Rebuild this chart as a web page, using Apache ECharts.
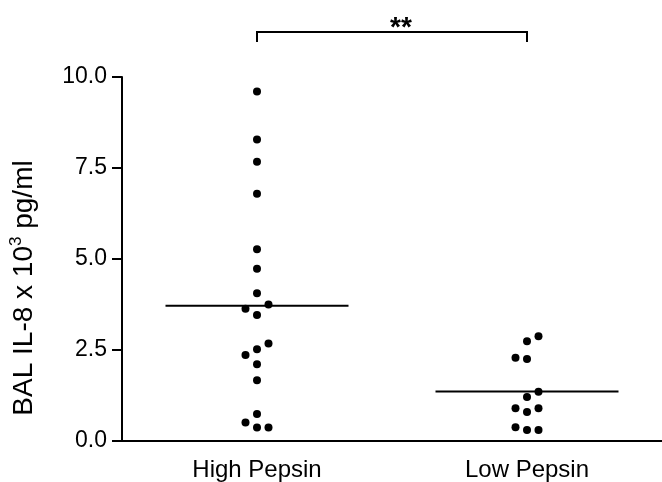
<!DOCTYPE html>
<html>
<head>
<meta charset="utf-8">
<script src="https://cdn.jsdelivr.net/npm/echarts@6/dist/echarts.min.js"></script>
<style>
  html, body { margin: 0; padding: 0; background: #fff; }
  #chart { width: 662px; height: 482px; }
</style>
</head>
<body>
<div id="chart"></div>
<script>
const categories = ['High Pepsin', 'Low Pepsin'];
const highPepsin = [9.6, 8.28, 7.67, 6.79, 5.27, 4.73, 4.06, 3.46, 3.75, 3.63, 2.52, 2.68, 2.36, 2.11, 1.67, 0.74, 0.37, 0.37, 0.51];
const lowPepsin = [2.74, 2.88, 2.25, 2.29, 1.21, 1.35, 0.80, 0.90, 0.90, 0.30, 0.38, 0.30];
const yMin = 0, yMax = 10, yInterval = 2.5;
const significance = '**';
const yTitle = 'BAL IL-8 x 10{sup|3} pg/ml';

const FONT = '"Liberation Sans", Arial, Helvetica, sans-serif';
const gridTop = 77, gridHeight = 364, gridLeft = 119, gridWidth = 545;
const pxPerUnit = gridHeight / (yMax - yMin);

function mean(a) { return a.reduce((s, v) => s + v, 0) / a.length; }

// simple beeswarm: horizontal pixel offsets so dots don't overlap
function swarm(values, step, thr) {
  const placed = [];
  const out = [];
  let side = 1;
  values.forEach(v => {
    const y = v * pxPerUnit;
    const cands = [0, side, -side, 2 * side, -2 * side];
    let chosen = 0;
    for (const c of cands) {
      const x = c * step;
      if (placed.every(p => Math.hypot(p[0] - x, p[1] - y) >= thr)) { chosen = c; break; }
    }
    if (chosen !== 0) side = chosen > 0 ? -1 : 1;
    placed.push([chosen * step, y]);
    out.push(chosen * step);
  });
  return out;
}

function dots(catIndex, values) {
  const offs = swarm(values, 11.5, 11);
  return values.map((v, i) => ({ value: [catIndex, v], symbolOffset: [offs[i], 0] }));
}

const means = [[0, mean(highPepsin)], [1, mean(lowPepsin)]];

const chart = echarts.init(document.getElementById('chart'), null, { renderer: 'canvas' });
chart.setOption({
  backgroundColor: '#fff',
  animation: false,
  grid: { left: gridLeft, top: gridTop, width: gridWidth, height: gridHeight, containLabel: false },
  xAxis: {
    type: 'category',
    data: categories,
    axisLine: { lineStyle: { color: '#000', width: 2 } },
    axisTick: { alignWithLabel: true, length: 10, lineStyle: { color: '#000', width: 2 } },
    axisLabel: { color: '#000', fontSize: 24, fontFamily: FONT, margin: 17 },
    splitLine: { show: false }
  },
  yAxis: {
    type: 'value',
    min: yMin, max: yMax, interval: yInterval,
    axisLine: { show: true, lineStyle: { color: '#000', width: 2 } },
    axisTick: { show: true, length: 10, lineStyle: { color: '#000', width: 2 } },
    axisLabel: { color: '#000', fontSize: 23, fontFamily: FONT, margin: 15, formatter: v => v.toFixed(1) },
    splitLine: { show: false },
    name: yTitle,
    nameLocation: 'middle',
    nameGap: 82,
    nameTextStyle: {
      color: '#000', fontSize: 28, fontFamily: FONT,
      padding: [0, 58, 0, 0],
      rich: { sup: { fontSize: 17, fontFamily: FONT, color: '#000', padding: [0, 0, 15, 0] } }
    }
  },
  series: [
    {
      type: 'scatter', data: dots(0, highPepsin), symbol: 'circle', symbolSize: 8,
      itemStyle: { color: '#000', opacity: 1 }, z: 5
    },
    {
      type: 'scatter', data: dots(1, lowPepsin), symbol: 'circle', symbolSize: 8,
      itemStyle: { color: '#000', opacity: 1 }, z: 5
    },
    {
      type: 'custom',
      data: means,
      clip: false,
      z: 4,
      renderItem: function (params, api) {
        const p = api.coord([api.value(0), api.value(1)]);
        return {
          type: 'line',
          shape: { x1: p[0] - 91.5, y1: p[1], x2: p[0] + 91.5, y2: p[1] },
          style: { stroke: '#000', lineWidth: 2 }
        };
      }
    },
    {
      type: 'custom',
      data: [[0, 1]],
      clip: false,
      silent: true,
      renderItem: function (params, api) {
        const a = api.coord([api.value(0), yMax]);
        const b = api.coord([api.value(1), yMax]);
        const y = a[1] - 45;
        return {
          type: 'group',
          children: [
            {
              type: 'polyline',
              shape: { points: [[a[0], y + 10], [a[0], y], [b[0], y], [b[0], y + 10]] },
              style: { stroke: '#000', lineWidth: 2, fill: null }
            },
            {
              type: 'text',
              style: {
                text: significance, x: (a[0] + b[0]) / 2 + 9, y: y - 4,
                align: 'center', verticalAlign: 'middle',
                fontSize: 28, fontWeight: 'bold', fontFamily: FONT, fill: '#000'
              }
            }
          ]
        };
      }
    }
  ]
});
</script>
</body>
</html>
